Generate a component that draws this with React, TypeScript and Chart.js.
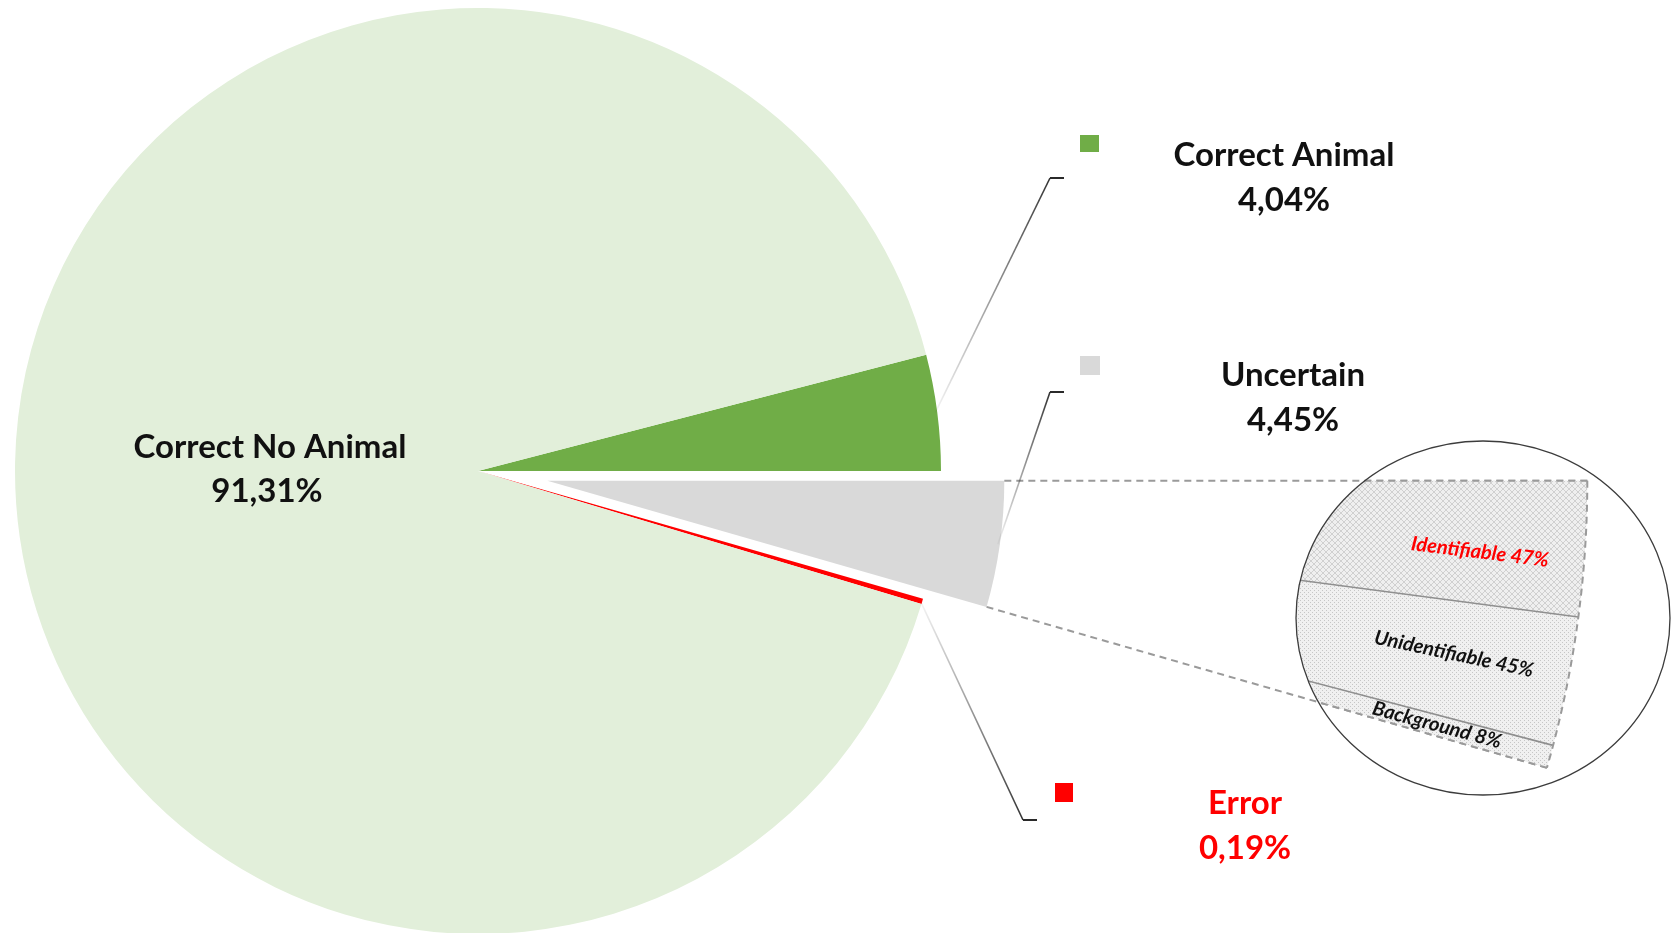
import React, { useEffect, useRef } from 'react';
import { Chart, registerables } from 'chart.js';

Chart.register(...registerables);

// ---------- data ----------
const categories = ['Correct Animal', 'Uncertain', 'Error', 'Correct No Animal'];
const shares = [4.04, 4.45, 0.19, 91.31];
const shareLabels = ['4,04%', '4,45%', '0,19%', '91,31%'];
const sliceColors = ['#70ad47', '#d9d9d9', '#ff0000', '#e2efda'];

const subCategories = ['Identifiable', 'Unidentifiable', 'Background'];
const subShares = [47, 45, 8];
const subLabels = ['47%', '45%', '8%'];

// ---------- layout / style ----------
const W = 1673;
const H = 933;
const PIE_CX = 478;
const PIE_CY = 471;
const PIE_R = 463;
const EXPLODE = [0, 70, 0, 0];
const EXPLODED_R = 457;
const UNCERTAIN = 1;
const INSET_R = 1040;
const ELLIPSE = { cx: 1483, cy: 618, rx: 187, ry: 177 };
const LABEL_FONT = 'bold 33px Lato';
const SUB_FONT = 'italic bold 20px Lato';

const CALLOUTS = [
  { index: 0, elbow: { x: 1050, y: 178 }, key: { x: 1080, y: 135, w: 19, h: 17 }, text: { x: 1284, y: 166 }, color: '#111111' },
  { index: 1, elbow: { x: 1050, y: 392 }, key: { x: 1080, y: 356, w: 20, h: 19 }, text: { x: 1293, y: 386 }, color: '#111111' },
  { index: 2, elbow: { x: 1023, y: 820 }, key: { x: 1055, y: 783, w: 18, h: 19 }, text: { x: 1245, y: 814 }, color: '#ff0000' },
];
const CENTER_LABEL = { index: 3, x: 270, y: 458 };
const LINE_GAP = 45;

const SUB_LABEL_POS = [
  { x: 1480, y: 552, rot: 7, color: '#ff0000' },
  { x: 1454, y: 654, rot: 12, color: '#111111' },
  { x: 1437, y: 725, rot: 15, color: '#111111' },
];

function makePattern(kind: 'hatch' | 'dots'): any {
  const c = document.createElement('canvas');
  const ctx = c.getContext('2d') as CanvasRenderingContext2D;
  if (kind === 'hatch') {
    c.width = 6; c.height = 6;
    ctx.fillStyle = '#efefef'; ctx.fillRect(0, 0, 6, 6);
    ctx.strokeStyle = '#d0d0d0'; ctx.lineWidth = 1;
    ctx.beginPath();
    ctx.moveTo(0, 0); ctx.lineTo(6, 6);
    ctx.moveTo(6, 0); ctx.lineTo(0, 6);
    ctx.stroke();
  } else {
    c.width = 4; c.height = 4;
    ctx.fillStyle = '#f0f0f0'; ctx.fillRect(0, 0, 4, 4);
    ctx.fillStyle = '#c6c6c6';
    ctx.fillRect(0, 0, 1, 1); ctx.fillRect(2, 2, 1, 1);
  }
  return ctx.createPattern(c, 'repeat');
}

function padFor(cx: number, cy: number) {
  const pad = { left: 0, right: 0, top: 0, bottom: 0 };
  if (2 * cx <= W) pad.right = W - 2 * cx; else pad.left = 2 * cx - W;
  if (2 * cy <= H) pad.bottom = H - 2 * cy; else pad.top = 2 * cy - H;
  return pad;
}

export default function App() {
  const mainRef = useRef<HTMLCanvasElement | null>(null);
  const insetRef = useRef<HTMLCanvasElement | null>(null);

  useEffect(() => {
    if (!mainRef.current || !insetRef.current) return;

    const mainPlugin = {
      id: 'mainAnnotate',
      afterUpdate(chart: any) {
        const arcs = chart.getDatasetMeta(0).data;
        arcs.forEach((arc: any, i: number) => {
          const d = EXPLODE[i];
          if (!d) return;
          const mid = (arc.startAngle + arc.endAngle) / 2;
          arc.x += Math.cos(mid) * d;
          arc.y += Math.sin(mid) * d;
          arc.outerRadius = EXPLODED_R;
        });
      },
      afterDraw(chart: any) {
        const ctx: CanvasRenderingContext2D = chart.ctx;
        const arcs = chart.getDatasetMeta(0).data;
        ctx.save();
        const g = arcs[UNCERTAIN];
        ctx.strokeStyle = '#9a9a9a';
        ctx.lineWidth = 2;
        ctx.setLineDash([7, 5]);
        [g.startAngle, g.endAngle].forEach((a: number) => {
          ctx.beginPath();
          ctx.moveTo(g.x + g.outerRadius * Math.cos(a), g.y + g.outerRadius * Math.sin(a));
          ctx.lineTo(g.x + INSET_R * Math.cos(a), g.y + INSET_R * Math.sin(a));
          ctx.stroke();
        });
        ctx.setLineDash([]);

        CALLOUTS.forEach((co) => {
          const arc = arcs[co.index];
          const mid = (arc.startAngle + arc.endAngle) / 2;
          const sx = arc.x + (arc.outerRadius - 2) * Math.cos(mid);
          const sy = arc.y + (arc.outerRadius - 2) * Math.sin(mid);
          const grad = ctx.createLinearGradient(sx, sy, co.elbow.x, co.elbow.y);
          grad.addColorStop(0, 'rgba(60,60,60,0.05)');
          grad.addColorStop(1, 'rgba(40,40,40,0.95)');
          ctx.strokeStyle = grad;
          ctx.lineWidth = 1.6;
          ctx.beginPath();
          ctx.moveTo(sx, sy);
          ctx.lineTo(co.elbow.x, co.elbow.y);
          ctx.stroke();
          ctx.strokeStyle = '#2a2a2a';
          ctx.lineWidth = 2;
          ctx.beginPath();
          ctx.moveTo(co.elbow.x, co.elbow.y);
          ctx.lineTo(co.elbow.x + 14, co.elbow.y);
          ctx.stroke();

          ctx.fillStyle = sliceColors[co.index];
          ctx.fillRect(co.key.x, co.key.y, co.key.w, co.key.h);

          ctx.fillStyle = co.color;
          ctx.font = LABEL_FONT;
          ctx.textAlign = 'center';
          ctx.textBaseline = 'alphabetic';
          ctx.fillText(categories[co.index], co.text.x, co.text.y);
          ctx.fillText(shareLabels[co.index], co.text.x, co.text.y + LINE_GAP);
        });

        ctx.fillStyle = '#111111';
        ctx.font = LABEL_FONT;
        ctx.textAlign = 'center';
        ctx.fillText(categories[CENTER_LABEL.index], CENTER_LABEL.x, CENTER_LABEL.y);
        ctx.fillText(shareLabels[CENTER_LABEL.index], CENTER_LABEL.x - 3, CENTER_LABEL.y + 44);
        ctx.restore();
      },
    };

    const main = new Chart(mainRef.current, {
      type: 'pie',
      data: {
        labels: categories,
        datasets: [{ data: shares, backgroundColor: sliceColors, borderWidth: 0 }],
      },
      options: {
        responsive: false,
        animation: false,
        events: [],
        rotation: 90 - shares[0] * 3.6,
        radius: PIE_R,
        layout: { padding: padFor(PIE_CX, PIE_CY) },
        plugins: { legend: { display: false }, tooltip: { enabled: false } },
      } as any,
      plugins: [mainPlugin],
    });

    const g: any = main.getDatasetMeta(0).data[UNCERTAIN];
    const gx = g.x;
    const gy = g.y;
    const gStart = g.startAngle;
    const gEnd = g.endAngle;
    const gR = g.outerRadius;

    const insetPlugin = {
      id: 'insetAnnotate',
      afterUpdate(chart: any) {
        // magnified wedge shares the apex of the exploded slice
        chart.getDatasetMeta(0).data.forEach((arc: any) => {
          arc.x = gx;
          arc.y = gy;
          arc.outerRadius = INSET_R;
        });
      },
      beforeDatasetsDraw(chart: any) {
        const ctx: CanvasRenderingContext2D = chart.ctx;
        ctx.save();
        ctx.beginPath();
        ctx.ellipse(ELLIPSE.cx, ELLIPSE.cy, ELLIPSE.rx, ELLIPSE.ry, 0, 0, Math.PI * 2);
        ctx.clip();
      },
      afterDatasetsDraw(chart: any) {
        const ctx: CanvasRenderingContext2D = chart.ctx;
        const arcs = chart.getDatasetMeta(0).data;
        ctx.strokeStyle = '#8f8f8f';
        ctx.lineWidth = 1.6;
        arcs.slice(1).forEach((arc: any) => {
          const a = arc.startAngle;
          ctx.beginPath();
          ctx.moveTo(arc.x + 600 * Math.cos(a), arc.y + 600 * Math.sin(a));
          ctx.lineTo(arc.x + arc.outerRadius * Math.cos(a), arc.y + arc.outerRadius * Math.sin(a));
          ctx.stroke();
        });
        ctx.strokeStyle = '#9a9a9a';
        ctx.lineWidth = 2;
        ctx.setLineDash([7, 5]);
        [gStart, gEnd].forEach((a) => {
          ctx.beginPath();
          ctx.moveTo(gx + gR * Math.cos(a), gy + gR * Math.sin(a));
          ctx.lineTo(gx + INSET_R * Math.cos(a), gy + INSET_R * Math.sin(a));
          ctx.stroke();
        });
        ctx.beginPath();
        ctx.arc(gx, gy, INSET_R, gStart, gEnd);
        ctx.stroke();
        ctx.setLineDash([]);
        ctx.font = SUB_FONT;
        ctx.textAlign = 'center';
        ctx.textBaseline = 'middle';
        SUB_LABEL_POS.forEach((p, i) => {
          ctx.save();
          ctx.translate(p.x, p.y);
          ctx.rotate((p.rot * Math.PI) / 180);
          ctx.fillStyle = p.color;
          ctx.fillText(subCategories[i] + ' ' + subLabels[i], 0, 0);
          ctx.restore();
        });
        ctx.restore();
        ctx.save();
        ctx.strokeStyle = '#3c3c3c';
        ctx.lineWidth = 1.3;
        ctx.beginPath();
        ctx.ellipse(ELLIPSE.cx, ELLIPSE.cy, ELLIPSE.rx, ELLIPSE.ry, 0, 0, Math.PI * 2);
        ctx.stroke();
        ctx.restore();
      },
    };

    const hatch = makePattern('hatch');
    const dots = makePattern('dots');

    const inset = new Chart(insetRef.current, {
      type: 'pie',
      data: {
        labels: subCategories,
        datasets: [{ data: subShares, backgroundColor: [hatch, dots, dots], borderWidth: 0 }],
      },
      options: {
        responsive: false,
        animation: false,
        events: [],
        rotation: (gStart * 180) / Math.PI + 90,
        circumference: ((gEnd - gStart) * 180) / Math.PI,
        radius: INSET_R,
        layout: { padding: padFor(gx, gy) },
        plugins: { legend: { display: false }, tooltip: { enabled: false } },
      } as any,
      plugins: [insetPlugin],
    });

    return () => {
      inset.destroy();
      main.destroy();
    };
  }, []);

  return (
    <div style={{ position: 'fixed', left: 0, top: 0, width: W, height: H, background: '#ffffff' }}>
      <canvas ref={mainRef} width={W} height={H} style={{ position: 'absolute', left: 0, top: 0 }} />
      <canvas ref={insetRef} width={W} height={H} style={{ position: 'absolute', left: 0, top: 0 }} />
    </div>
  );
}
